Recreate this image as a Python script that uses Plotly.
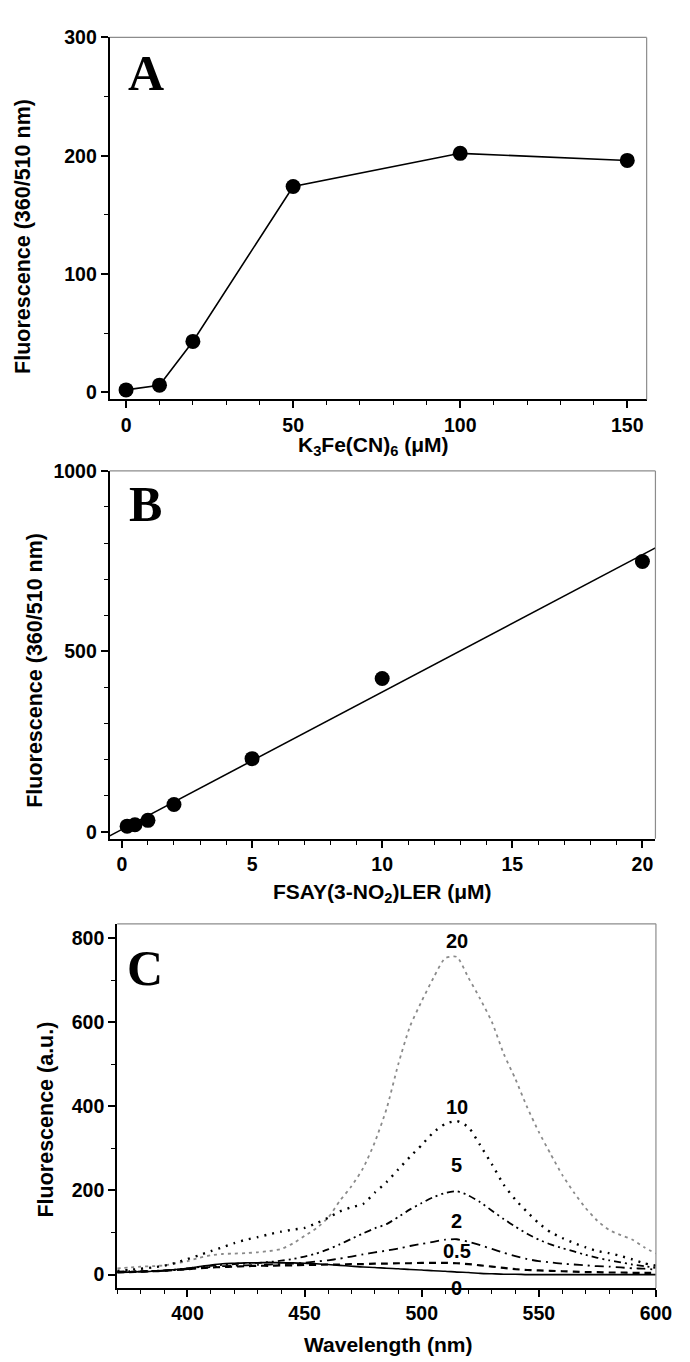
import numpy as np
import plotly.graph_objects as go

# ---------------- data ----------------
# Panel A
ferri_conc = [0, 10, 20, 50, 100, 150]
ferri_fluor = [2, 6, 43, 174, 202, 196]

# Panel B
peptide_conc = [0.2, 0.5, 1, 2, 5, 10, 20]
peptide_fluor = [16, 20, 32, 76, 203, 425, 749]

# Panel C
wavelength = list(range(370, 605, 5))
spec_labels = ["20", "10", "5", "2", "0.5", "0"]
spec_20 = [15, 17, 19, 20, 22, 27, 32, 40, 46, 49,
           50, 51, 53, 56, 61, 74, 92, 110, 135, 175,
           210, 253, 315, 394, 500, 590, 650, 705, 752, 755,
           705, 655, 600, 525, 465, 398, 339, 287, 237, 195,
           158, 128, 106, 94, 83, 65, 50]
spec_10 = [9, 11, 14, 17, 21, 28, 37, 46, 56, 65,
           75, 83, 89, 96, 102, 107, 111, 122, 135, 150,
           160, 168, 195, 220, 250, 280, 308, 338, 358, 365,
           350, 307, 262, 214, 178, 149, 122, 101, 87, 75,
           65, 56, 51, 44, 36, 27, 21]
spec_5 = [7, 8, 8, 9, 10, 12, 15, 18, 21, 23,
          25, 27, 28, 30, 33, 37, 43, 50, 60, 72,
          85, 98, 110, 120, 137, 155, 170, 184, 194, 198,
          188, 172, 152, 132, 114, 97, 83, 72, 63, 55,
          47, 40, 34, 29, 24, 20, 16]
spec_2 = [6, 7, 7, 8, 9, 11, 13, 16, 18, 20,
          21, 22, 23, 24, 25, 26, 28, 31, 34, 38,
          43, 48, 53, 57, 62, 68, 73, 78, 83, 84,
          78, 70, 61, 52, 44, 37, 32, 29, 26, 24,
          22, 20, 19, 17, 15, 14, 12]
spec_05 = [5, 6, 7, 8, 9, 11, 13, 15, 17, 18,
           19, 20, 21, 21, 22, 22, 23, 23, 24, 24,
           25, 25, 26, 26, 27, 27, 28, 28, 28, 27,
           25, 22, 19, 16, 13, 11, 10, 9, 8, 7,
           6, 6, 5, 5, 4, 4, 4]
spec_0 = [5, 6, 7, 8, 10, 12, 15, 19, 23, 26,
          27, 28, 28, 29, 28, 28, 27, 26, 24, 22,
          20, 18, 17, 15, 14, 12, 11, 9, 8, 6,
          5, 3, 2, 1, 1, 0, 0, 0, 0, 0,
          0, 0, 0, 0, 0, 0, 0]
spectra = [spec_20, spec_10, spec_5, spec_2, spec_05, spec_0]

# ---------------- styling ----------------
W, H = 690, 1362
FONT = "Liberation Sans, Arial, sans-serif"
SERIF = "Liberation Serif, Times New Roman, serif"

spec_styles = [
    dict(color="#8a8a8a", width=1.8, dash="3px,4px"),
    dict(color="black", width=2.4, dash="2px,6px"),
    dict(color="black", width=1.8, dash="7px,4px,2px,4px,2px,4px"),
    dict(color="black", width=1.8, dash="9px,5px,2px,5px"),
    dict(color="black", width=2.2, dash="7px,5px"),
    dict(color="black", width=1.6, dash="solid"),
]
label_shift = [16, 14, 26, 18, 12, -16]


def px_dom(lo, hi, total):
    return [lo / total, hi / total]


def ydom(top, bottom):
    return [1 - bottom / H, 1 - top / H]


fig = go.Figure()

# Panel A
fig.add_trace(go.Scatter(x=ferri_conc, y=ferri_fluor, mode="lines+markers",
                         line=dict(color="black", width=1.6),
                         marker=dict(color="black", size=15),
                         xaxis="x", yaxis="y", showlegend=False))

# Panel B
fit = np.polyfit(peptide_conc, peptide_fluor, 1)
xB_range = [-0.47, 20.5]
fit_x = np.array(xB_range)
fig.add_trace(go.Scatter(x=fit_x, y=np.polyval(fit, fit_x), mode="lines",
                         line=dict(color="black", width=1.6),
                         xaxis="x2", yaxis="y2", showlegend=False))
fig.add_trace(go.Scatter(x=peptide_conc, y=peptide_fluor, mode="markers",
                         marker=dict(color="black", size=15),
                         xaxis="x2", yaxis="y2", showlegend=False))

# Panel C
for s, st in zip(spectra, spec_styles):
    fig.add_trace(go.Scatter(x=wavelength, y=s, mode="lines",
                             line=dict(shape="spline", smoothing=0.6, **st),
                             xaxis="x3", yaxis="y3", showlegend=False))

annotations = []
peak_i = int(np.argmax(spec_20))
for lab, s, dy in zip(spec_labels, spectra, label_shift):
    annotations.append(dict(x=wavelength[peak_i], y=s[peak_i], xref="x3",
                            yref="y3", text=lab, showarrow=False, yshift=dy,
                            font=dict(family=FONT, size=20, color="black",
                                      weight="bold")))

axis_common = dict(showline=True, linecolor="black", linewidth=2,
                   ticks="outside", ticklen=7, tickwidth=1.6,
                   tickcolor="black", showgrid=False, zeroline=False,
                   tickfont=dict(family=FONT, size=19.5, color="black",
                                 weight="bold"),
                   minor=dict(ticks="outside", ticklen=4, tickwidth=1.4,
                              tickcolor="black", showgrid=False))

# domains (pixel based)
xA = px_dom(112.3, 662, W)
yA = ydom(26.7, 392.7)
xB = px_dom(112.3, 671, W)
yB = ydom(465, 837)
xC = px_dom(120, 671.5, W)
yC = ydom(923, 1291.3)

fig.update_layout(
    width=W, height=H, margin=dict(l=0, r=0, t=0, b=0),
    paper_bgcolor="white", plot_bgcolor="white",
    xaxis=dict(axis_common, domain=xA, anchor="y", range=[-4.9, 155.8],
               tick0=0, dtick=50, minor=dict(axis_common["minor"], dtick=10)),
    yaxis=dict(axis_common, domain=yA, anchor="x", range=[-6, 300],
               tick0=0, dtick=100, minor=dict(axis_common["minor"], dtick=50)),
    xaxis2=dict(axis_common, domain=xB, anchor="y2", range=xB_range,
                tick0=0, dtick=5, minor=dict(axis_common["minor"], dtick=1)),
    yaxis2=dict(axis_common, domain=yB, anchor="x2", range=[-19, 1000],
                tick0=0, dtick=500, minor=dict(axis_common["minor"], dtick=100)),
    xaxis3=dict(axis_common, domain=xC, anchor="y3", range=[370, 600],
                tick0=400, dtick=50, minor=dict(axis_common["minor"], dtick=10)),
    yaxis3=dict(axis_common, domain=yC, anchor="x3", range=[-32, 833.6],
                tick0=0, dtick=200, minor=dict(axis_common["minor"], dtick=100)),
)

# thin gray top/right frame lines
shapes = []
for xa, ya in [("x", "y"), ("x2", "y2"), ("x3", "y3")]:
    shapes.append(dict(type="line", xref=f"{xa} domain", yref=f"{ya} domain",
                       x0=0, x1=1, y0=1, y1=1,
                       line=dict(color="#8c8c8c", width=1.2)))
    shapes.append(dict(type="line", xref=f"{xa} domain", yref=f"{ya} domain",
                       x0=1, x1=1, y0=0, y1=1,
                       line=dict(color="#8c8c8c", width=1.2)))

ytitle_font = dict(family=FONT, size=21.5, color="black", weight="bold")
xtitle_font = dict(family=FONT, size=21, color="black", weight="bold")


def pap(xp, yp):
    return dict(xref="paper", yref="paper", x=xp / W, y=1 - yp / H,
                showarrow=False, xanchor="center", yanchor="middle")


annotations += [
    dict(pap(24, 228), text="Fluorescence (360/510 nm)", textangle=-90,
         font=ytitle_font),
    dict(pap(35, 667), text="Fluorescence (360/510 nm)", textangle=-90,
         font=ytitle_font),
    dict(pap(47, 1121), text="Fluorescence (a.u.)", textangle=-90,
         font=ytitle_font),
    dict(pap(382, 440), text="K<sub>3</sub>Fe(CN)<sub>6</sub> (μM)",
         font=xtitle_font),
    dict(pap(392, 892), text="FSAY(3-NO<sub>2</sub>)LER (μM)",
         font=xtitle_font),
    dict(pap(397, 1348), text="Wavelength (nm)", font=xtitle_font),
]
letter_font = dict(family=SERIF, size=50, color="black", weight="bold")
annotations += [
    dict(pap(149, 63), text="A", font=letter_font),
    dict(pap(149, 498), text="B", font=letter_font),
    dict(pap(148, 968), text="C", font=letter_font),
]

fig.update_layout(shapes=shapes, annotations=annotations)
fig.write_html("out.html", config={"displayModeBar": False},
               post_script="document.body.style.margin='0px';"
                           "document.body.style.overflow='hidden';")
